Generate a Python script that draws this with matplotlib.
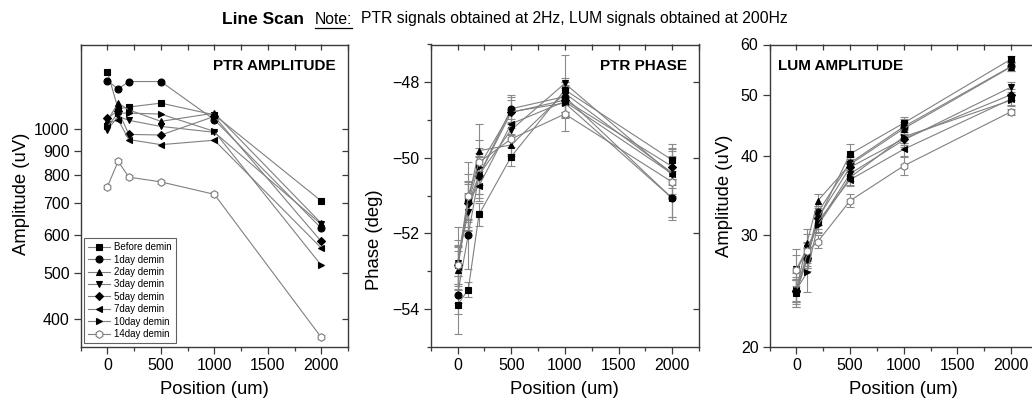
import matplotlib
matplotlib.use('Agg')
import matplotlib.pyplot as plt
from matplotlib.ticker import FixedLocator, FixedFormatter, NullLocator, MultipleLocator, NullFormatter
from matplotlib.lines import Line2D

plt.rcParams['font.family'] = ['Liberation Sans', 'DejaVu Sans']

# ---------------- data ----------------
positions = [0, 100, 200, 500, 1000, 2000]
series_names = ['Before demin', '1day demin', '2day demin', '3day demin',
                '5day demin', '7day demin', '10day demin', '14day demin']

ptr_amplitude = [
    [1315, 1100, 1110, 1131, 1069, 706],
    [1261, 1210, 1255, 1255, 1044, 619],
    [1040, 1131, 1095, 1036, 1078, 634],
    [995, 1061, 1041, 1011, 983, 631],
    [1052, 1090, 973, 970, 1061, 581],
    [1024, 1044, 949, 926, 946, 563],
    [1011, 1078, 1078, 1073, 987, 518],
    [756, 855, 792, 774, 729, 366],
]

ptr_phase = [
    [-53.89, -53.49, -51.50, -49.97, -48.20, -50.06],
    [-53.63, -52.03, -50.47, -48.70, -48.38, -51.07],
    [-52.96, -51.13, -49.81, -49.66, -48.29, -50.40],
    [-52.78, -51.44, -50.45, -49.26, -48.03, -50.45],
    [-52.83, -51.20, -50.47, -48.80, -48.47, -50.23],
    [-52.90, -51.11, -50.74, -49.10, -48.51, -50.42],
    [-52.85, -51.15, -50.23, -48.78, -48.55, -51.07],
    [-52.83, -51.00, -50.12, -49.50, -48.84, -50.64],
]
ptr_phase_err = [
    [0.77, 0.20, 0.30, 0.25, 0.30, 0.30],
    [0.50, 0.90, 0.60, 0.35, 0.40, 0.50],
    [0.50, 0.70, 0.70, 0.30, 0.30, 0.40],
    [0.60, 0.50, 0.50, 0.30, 0.75, 0.50],
    [0.50, 0.50, 0.50, 0.40, 0.40, 0.50],
    [0.60, 0.50, 0.40, 0.30, 0.40, 0.60],
    [0.50, 0.50, 0.50, 0.30, 0.40, 0.50],
    [1.00, 0.90, 0.60, 0.40, 0.45, 1.00],
]

lum_amplitude = [
    [24.3, 27.6, 31.7, 40.3, 45.1, 56.9],
    [24.5, 27.5, 32.6, 39.0, 44.5, 55.4],
    [24.6, 29.2, 34.0, 38.8, 44.2, 55.3],
    [26.5, 28.6, 31.2, 37.5, 42.4, 51.4],
    [24.5, 27.6, 31.9, 38.4, 42.6, 50.0],
    [24.6, 28.0, 31.5, 36.7, 41.0, 49.2],
    [24.6, 26.2, 31.1, 37.0, 42.9, 49.0],
    [26.4, 28.3, 29.3, 34.0, 38.6, 47.0],
]
lum_amplitude_err = [
    [1.2, 1.0, 0.6, 1.5, 1.0, 0.7],
    [1.0, 1.2, 0.8, 1.0, 1.2, 1.0],
    [1.0, 1.5, 0.9, 1.0, 1.0, 0.8],
    [2.0, 1.5, 1.0, 1.0, 1.0, 1.0],
    [1.0, 1.0, 0.8, 1.2, 1.0, 1.0],
    [1.2, 1.2, 0.8, 0.8, 1.0, 1.0],
    [1.5, 1.8, 0.8, 1.0, 1.0, 1.0],
    [1.5, 1.0, 0.7, 0.8, 1.3, 0.5],
]

ptr_amp_ticks = [400, 500, 600, 700, 800, 900, 1000]
lum_amp_ticks = [20, 30, 40, 50, 60]
phase_ticks = [-54, -52, -50, -48]
x_ticks = [0, 500, 1000, 1500, 2000]

# ---------------- styles ----------------
markers = ['s', 'o', '^', 'v', 'D', '<', '>', 'h']
msizes = [4.5, 5, 5, 5, 4, 5, 5, 5.5]
LINE_C = '#808080'
SPINE_C = '#3a3a3a'
ERR_C = '#8a8a8a'

W, H = 1032, 403
fig = plt.figure(figsize=(W / 100, H / 100), dpi=100)


def px_axes(x0, x1, y0, y1):
    return fig.add_axes([x0 / W, 1 - y1 / H, (x1 - x0) / W, (y1 - y0) / H])


TOP, BOT = 44.5, 346.7
ax1 = px_axes(80.7, 348.0, TOP, BOT)
ax2 = px_axes(430.7, 699.0, TOP, BOT)
ax3 = px_axes(769.5, 1038.0, TOP, BOT)


def style_axes(ax):
    for s in ax.spines.values():
        s.set_color(SPINE_C)
        s.set_linewidth(1.0)
    ax.set_xlim(-250, 2250)
    ax.xaxis.set_major_locator(FixedLocator(x_ticks))
    ax.xaxis.set_minor_locator(MultipleLocator(250))
    ax.tick_params(axis='both', which='major', direction='out', length=5, width=0.9,
                   color=SPINE_C, labelsize=11.5, pad=3)
    ax.tick_params(axis='both', which='minor', direction='out', length=3, width=0.9,
                   color=SPINE_C)
    ax.set_xlabel('Position (um)', fontsize=13.3, labelpad=6)
    # top & right inward ticks
    top = ax.secondary_xaxis('top')
    top.xaxis.set_major_locator(MultipleLocator(250))
    top.xaxis.set_minor_locator(NullLocator())
    top.tick_params(direction='in', length=4, width=0.9, color=SPINE_C, labeltop=False)
    top.spines['top'].set_visible(False)
    return top


def draw_series(ax, values, errs=None):
    for i, name in enumerate(series_names):
        hollow = (i == 7)
        mfc = 'white' if hollow else 'black'
        mec = '#7a7a7a' if hollow else 'black'
        if errs is not None:
            ax.errorbar(positions, values[i], yerr=errs[i], fmt='none', ecolor=ERR_C,
                        elinewidth=0.8, capsize=3, capthick=0.8, zorder=1)
        ax.plot(positions, values[i], color=LINE_C, lw=0.8, marker=markers[i],
                ms=msizes[i], mfc=mfc, mec=mec, mew=0.8, label=name, zorder=2)


# ----- left panel: PTR amplitude -----
style_axes(ax1)
draw_series(ax1, ptr_amplitude)
ax1.set_yscale('log')
ax1.set_ylim(350, 1500)
ax1.yaxis.set_major_locator(FixedLocator(ptr_amp_ticks))
ax1.yaxis.set_major_formatter(FixedFormatter([str(t) for t in ptr_amp_ticks]))
ax1.yaxis.set_minor_locator(NullLocator())
ax1.yaxis.set_minor_formatter(NullFormatter())
ax1.set_ylabel('Amplitude (uV)', fontsize=13.3)
ax1.yaxis.set_label_coords(-0.19, 0.505)
r1 = ax1.secondary_yaxis('right')
r1.yaxis.set_major_locator(FixedLocator(ptr_amp_ticks))
r1.yaxis.set_minor_locator(NullLocator())
r1.tick_params(direction='in', length=4, width=0.9, color=SPINE_C, labelright=False)
r1.spines['right'].set_visible(False)
ax1.text(0.955, 0.93, 'PTR AMPLITUDE', transform=ax1.transAxes, ha='right', va='center',
         fontsize=11, fontweight='bold')
leg = ax1.legend(loc='lower left', bbox_to_anchor=(0.012, 0.012), borderaxespad=0,
                 fontsize=7, frameon=True, fancybox=False, handlelength=2.3,
                 handletextpad=0.4, labelspacing=0.25, borderpad=0.4)
leg.get_frame().set_edgecolor(SPINE_C)
leg.get_frame().set_linewidth(0.8)

# ----- middle panel: PTR phase -----
style_axes(ax2)
draw_series(ax2, ptr_phase, ptr_phase_err)
ax2.set_ylim(-55, -47)
ax2.yaxis.set_major_locator(FixedLocator(phase_ticks))
ax2.yaxis.set_minor_locator(MultipleLocator(1))
ax2.set_ylabel('Phase (deg)', fontsize=13.3)
ax2.yaxis.set_label_coords(-0.178, 0.353)
r2 = ax2.secondary_yaxis('right')
r2.yaxis.set_major_locator(FixedLocator(phase_ticks))
r2.yaxis.set_minor_locator(NullLocator())
r2.tick_params(direction='in', length=4, width=0.9, color=SPINE_C, labelright=False)
r2.spines['right'].set_visible(False)
ax2.text(0.955, 0.93, 'PTR PHASE', transform=ax2.transAxes, ha='right', va='center',
         fontsize=11, fontweight='bold')

# ----- right panel: LUM amplitude -----
style_axes(ax3)
draw_series(ax3, lum_amplitude, lum_amplitude_err)
ax3.set_yscale('log')
ax3.set_ylim(20, 60)
ax3.yaxis.set_major_locator(FixedLocator(lum_amp_ticks))
ax3.yaxis.set_major_formatter(FixedFormatter([str(t) for t in lum_amp_ticks]))
ax3.yaxis.set_minor_locator(NullLocator())
ax3.yaxis.set_minor_formatter(NullFormatter())
ax3.set_ylabel('Amplitude (uV)', fontsize=13.3)
ax3.yaxis.set_label_coords(-0.136, 0.50)
ax3.text(0.03, 0.93, 'LUM AMPLITUDE', transform=ax3.transAxes, ha='left', va='center',
         fontsize=11, fontweight='bold')

# ----- title -----
fig.text(222 / W, 1 - 19 / H, 'Line Scan', ha='left', va='center', fontsize=12.5,
         fontweight='bold')
note = fig.text(315 / W, 1 - 19 / H, 'Note:', ha='left', va='center', fontsize=11.3)
fig.canvas.draw()
rend = fig.canvas.get_renderer()
bb = note.get_window_extent(rend)
fig.text((bb.x1 + 9) / W, 1 - 19 / H,
         'PTR signals obtained at 2Hz, LUM signals obtained at 200Hz',
         ha='left', va='center', fontsize=11.3)
uy = bb.y0 - 1.5
fig.add_artist(Line2D([bb.x0 / W, bb.x1 / W], [uy / H, uy / H], color='black', lw=0.9))

fig.savefig('out.png', dpi=100)
